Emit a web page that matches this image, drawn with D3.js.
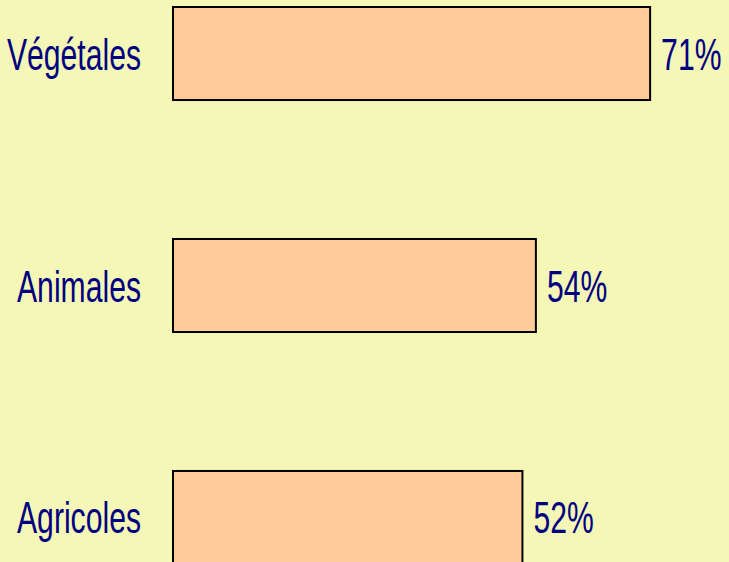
<!DOCTYPE html>
<html>
<head>
<meta charset="utf-8">
<script src="https://cdn.jsdelivr.net/npm/d3@7"></script>
<style>
  html, body { margin: 0; padding: 0; background: #F5F7B7; }
  svg { display: block; }
</style>
</head>
<body>
<svg id="chart"></svg>
<script>
// Data
const categories = ["Végétales", "Animales", "Agricoles"];
const values = [71, 54, 52];

const width = 729, height = 562;
const svg = d3.select("#chart")
    .attr("width", width)
    .attr("height", height);

svg.append("rect")
    .attr("width", width)
    .attr("height", height)
    .attr("fill", "#F5F7B7");

// Scales
const x = d3.scaleLinear()
    .domain([0, 100])
    .range([173, 845]);

const y = d3.scaleBand()
    .domain(categories)
    .range([7, 564])
    .paddingInner(0.599)
    .paddingOuter(0);

const squeeze = 0.67;  // condensed look of the label font
const fontSize = 45;

// Bars
svg.selectAll("rect.bar")
    .data(categories)
    .enter()
    .append("rect")
    .attr("class", "bar")
    .attr("x", x(0))
    .attr("y", d => y(d))
    .attr("width", (d, i) => x(values[i]) - x(0))
    .attr("height", y.bandwidth())
    .attr("fill", "#FFCC99")
    .attr("stroke", "#000")
    .attr("stroke-width", 2);

// Category labels, right aligned
svg.selectAll("g.label")
    .data(categories)
    .enter()
    .append("g")
    .attr("class", "label")
    .attr("transform", d => `translate(141,${y(d) + y.bandwidth() / 2 + 16}) scale(${squeeze},1)`)
    .append("text")
    .attr("text-anchor", "end")
    .attr("font-family", "'Liberation Sans Narrow', 'Liberation Sans', sans-serif")
    .attr("font-size", fontSize)
    .attr("fill", "#000080")
    .text(d => d);

// Value labels
svg.selectAll("g.value")
    .data(categories)
    .enter()
    .append("g")
    .attr("class", "value")
    .attr("transform", (d, i) => `translate(${x(values[i]) + 11},${y(d) + y.bandwidth() / 2 + 16}) scale(${squeeze},1)`)
    .append("text")
    .attr("font-family", "'Liberation Sans Narrow', 'Liberation Sans', sans-serif")
    .attr("font-size", fontSize)
    .attr("fill", "#000080")
    .text((d, i) => values[i] + "%");
</script>
</body>
</html>
